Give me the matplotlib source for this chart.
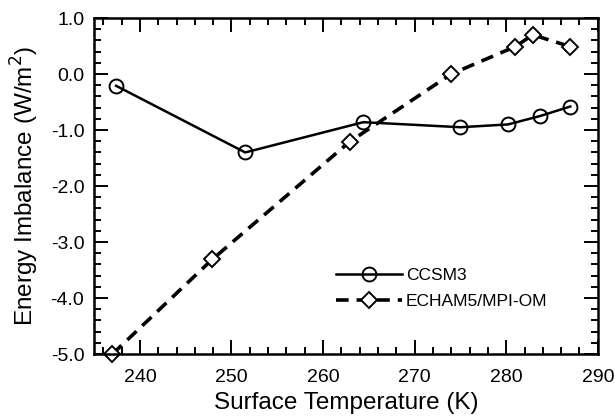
import matplotlib
matplotlib.use('Agg')
import matplotlib.pyplot as plt
from matplotlib.ticker import MultipleLocator, FormatStrFormatter

plt.rcParams['font.family'] = ['Liberation Sans', 'DejaVu Sans']
plt.rcParams['axes.unicode_minus'] = False

# data
ccsm3_t = [237.4, 251.5, 264.4, 275.0, 280.2, 283.7, 287.0]
ccsm3_e = [-0.21, -1.40, -0.86, -0.95, -0.90, -0.75, -0.58]
echam_t = [237.0, 247.9, 262.9, 274.0, 281.0, 282.9, 287.0]
echam_e = [-5.0, -3.31, -1.21, 0.0, 0.49, 0.70, 0.49]

fig = plt.figure(figsize=(6.15, 4.19), dpi=100)
ax = fig.add_axes([0.153, 0.155, 0.819, 0.802])

ax.plot(ccsm3_t, ccsm3_e, color='black', lw=1.8, marker='o', ms=10,
        mfc='none', mec='black', mew=1.4, label='CCSM3')
ax.plot(echam_t, echam_e, color='black', lw=2.6, ls=(0, (3.5, 2.2)), marker='D', ms=8,
        mfc='white', mec='black', mew=1.4, label='ECHAM5/MPI-OM', clip_on=False)

ax.set_xlim(235, 290)
ax.set_ylim(-5.0, 1.0)
ax.xaxis.set_major_locator(MultipleLocator(10))
ax.xaxis.set_minor_locator(MultipleLocator(2))
ax.yaxis.set_major_locator(MultipleLocator(1.0))
ax.yaxis.set_minor_locator(MultipleLocator(0.2))
ax.yaxis.set_major_formatter(FormatStrFormatter('%.1f'))

ax.tick_params(which='both', direction='in', top=True, right=True,
               labelsize=14, width=1.4)
ax.tick_params(which='major', length=10)
ax.tick_params(axis='x', which='major', pad=11)
ax.tick_params(axis='y', which='major', pad=7)
ax.tick_params(which='minor', length=5)
for s in ax.spines.values():
    s.set_linewidth(1.8)

ax.set_xlabel('Surface Temperature (K)', fontsize=17.5, labelpad=4)
ax.set_ylabel('Energy Imbalance (W/m$^2$)', fontsize=17.5, labelpad=7)

ax.legend(loc='center left', bbox_to_anchor=(0.45, 0.195), frameon=False,
          fontsize=12.5, handlelength=3.8, handletextpad=0.2, labelspacing=0.6)

fig.savefig('out.png', dpi=100)
